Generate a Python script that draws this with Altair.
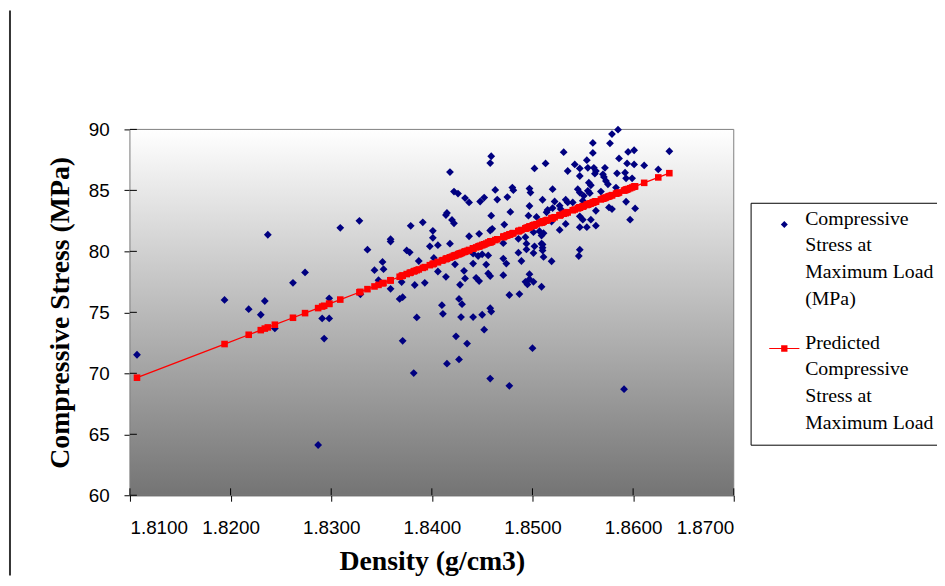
import altair as alt
import pandas as pd

# ---- data ----
density = [
    1.8107, 1.8237, 1.8309, 1.8274, 1.8262, 1.8194, 1.8234, 1.8218, 1.8230, 1.8298,
    1.8291, 1.8298, 1.8293, 1.8244, 1.8287, 1.8418, 1.8422, 1.8414, 1.8415, 1.8420,
    1.8422, 1.8328, 1.8391, 1.8379, 1.8401, 1.8401, 1.8359, 1.8359, 1.8336, 1.8398,
    1.8406, 1.8418, 1.8375, 1.8378, 1.8387, 1.8351, 1.8352, 1.8343, 1.8402, 1.8423,
    1.8406, 1.8414, 1.8347, 1.8370, 1.8383, 1.8393, 1.8359, 1.8329, 1.8368, 1.8371,
    1.8410, 1.8411, 1.8385, 1.8371, 1.8424, 1.8415, 1.8382, 1.8459, 1.8458, 1.8502,
    1.8513, 1.8426, 1.8433, 1.8437, 1.8448, 1.8452, 1.8463, 1.8465, 1.8475, 1.8480,
    1.8481, 1.8497, 1.8498, 1.8510, 1.8497, 1.8478, 1.8459, 1.8496, 1.8504, 1.8472,
    1.8460, 1.8458, 1.8447, 1.8437, 1.8486, 1.8493, 1.8501, 1.8507, 1.8471, 1.8494,
    1.8502, 1.8510, 1.8510, 1.8501, 1.8486, 1.8494, 1.8441, 1.8446, 1.8450, 1.8456,
    1.8441, 1.8454, 1.8471, 1.8474, 1.8489, 1.8432, 1.8456, 1.8458, 1.8471, 1.8497,
    1.8497, 1.8433, 1.8444, 1.8447, 1.8428, 1.8493, 1.8495, 1.8501, 1.8509, 1.8477,
    1.8487, 1.8427, 1.8430, 1.8458, 1.8429, 1.8441, 1.8450, 1.8459, 1.8452, 1.8435,
    1.8500, 1.8427, 1.8458, 1.8477, 1.8585, 1.8579, 1.8577, 1.8560, 1.8560, 1.8531,
    1.8595, 1.8601, 1.8586, 1.8554, 1.8542, 1.8547, 1.8535, 1.8555, 1.8561, 1.8563,
    1.8562, 1.8572, 1.8594, 1.8601, 1.8611, 1.8570, 1.8571, 1.8573, 1.8575, 1.8584,
    1.8592, 1.8593, 1.8547, 1.8556, 1.8558, 1.8599, 1.8520, 1.8545, 1.8547, 1.8555,
    1.8557, 1.8568, 1.8583, 1.8522, 1.8533, 1.8535, 1.8540, 1.8551, 1.8550, 1.8593,
    1.8520, 1.8515, 1.8514, 1.8527, 1.8528, 1.8576, 1.8579, 1.8563, 1.8602, 1.8547,
    1.8550, 1.8558, 1.8597, 1.8519, 1.8533, 1.8527, 1.8547, 1.8554, 1.8563, 1.8511,
    1.8509, 1.8509, 1.8510, 1.8547, 1.8546, 1.8511, 1.8519, 1.8591, 1.8636, 1.8625,
]
stress = [
    71.52, 81.36, 81.93, 78.27, 77.42, 76.02, 75.93, 75.26, 74.80, 76.15,
    74.50, 74.50, 72.85, 73.68, 64.12, 86.50, 84.90, 82.98, 83.15, 82.58,
    82.30, 82.50, 82.38, 82.09, 81.68, 81.11, 81.00, 80.81, 80.14, 80.41,
    80.51, 80.63, 80.08, 79.92, 79.21, 79.13, 78.54, 78.46, 79.46, 78.94,
    78.35, 77.91, 77.64, 77.48, 77.24, 77.42, 76.93, 76.48, 76.10, 76.24,
    75.59, 74.88, 74.58, 72.66, 73.03, 70.79, 70.02, 87.80, 87.24, 86.80,
    87.21, 84.74, 84.37, 84.01, 84.09, 84.41, 85.04, 84.25, 84.45, 85.23,
    85.02, 85.15, 84.82, 84.23, 83.72, 83.23, 82.93, 82.93, 82.82, 82.20,
    81.85, 81.71, 81.44, 81.24, 81.03, 81.16, 81.57, 81.65, 80.67, 80.63,
    80.41, 80.57, 80.08, 79.86, 79.89, 80.16, 79.81, 79.62, 79.76, 79.67,
    79.00, 78.92, 79.41, 79.00, 79.21, 78.40, 78.19, 77.97, 78.05, 78.13,
    77.72, 77.78, 77.83, 77.56, 77.26, 77.50, 77.29, 77.50, 77.10, 76.42,
    76.50, 76.10, 75.67, 75.34, 74.61, 74.61, 74.80, 75.07, 73.58, 72.44,
    72.06, 71.14, 69.57, 68.97, 89.98, 89.62, 88.86, 88.89, 88.07, 88.13,
    88.15, 88.29, 87.62, 87.48, 87.13, 86.80, 86.59, 86.85, 86.85, 86.59,
    86.37, 86.85, 87.21, 87.13, 87.05, 86.32, 86.10, 85.77, 85.50, 86.40,
    86.45, 85.99, 86.18, 85.63, 85.42, 85.99, 85.10, 85.10, 84.82, 84.96,
    84.77, 84.90, 85.23, 84.09, 84.23, 84.01, 84.01, 84.55, 84.15, 84.07,
    83.55, 83.39, 83.20, 83.74, 83.47, 83.60, 83.47, 83.33, 83.52, 82.87,
    82.60, 82.60, 82.60, 82.44, 82.25, 81.76, 81.98, 81.98, 82.11, 81.49,
    81.30, 80.63, 80.30, 80.14, 79.62, 79.54, 79.19, 68.70, 88.21, 86.72,
]

# fitted line (value at density 1.81 and slope)
FIT_INTERCEPT = 69.42
FIT_SLOPE = 317.0

X_TICKS = [1.81, 1.82, 1.83, 1.84, 1.85, 1.86, 1.87]
Y_TICKS = [60, 65, 70, 75, 80, 85, 90]

SERIES_OBS = "Compressive Stress at Maximum Load (MPa)"
SERIES_PRED = "Predicted Compressive Stress at Maximum Load"
LABEL_LINES_OBS = ["Compressive", "Stress at", "Maximum Load", "(MPa)"]
LABEL_LINES_PRED = ["Predicted", "Compressive", "Stress at", "Maximum Load"]

# legend symbol for the predicted series: a short line through a square
LINE_SQUARE_PATH = "M-4.3,-0.15H4.3V0.15H-4.3Z M-0.9,-0.9H0.9V0.9H-0.9Z"

# ---- layout ----
W, H = 609, 369
PAD = {"left": 123, "top": 120, "right": 205, "bottom": 81}

df = pd.DataFrame({"density": density, "stress": stress})
one = pd.DataFrame({"k": [0]})

x_scale = alt.Scale(domain=[1.81, 1.87], nice=False, zero=False)
y_scale = alt.Scale(domain=[60, 90], nice=False, zero=False)

x_axis = alt.Axis(
    values=X_TICKS, format=".4f", title="Density (g/cm3)", grid=False,
    tickSize=6, tickColor="black", domainColor="black",
    labelFont="Liberation Sans", labelFontSize=19, labelColor="black", labelPadding=18,
    titleFont="Liberation Serif", titleFontSize=28, titleFontWeight="bold",
    titleColor="black", titleBaseline="alphabetic", titleY=75,
)
y_axis = alt.Axis(
    values=Y_TICKS, format="d", title="Compressive Stress (MPa)", grid=False,
    tickSize=6, tickColor="black", domainColor="black",
    labelFont="Liberation Sans", labelFontSize=19, labelColor="black", labelPadding=15,
    titleFont="Liberation Serif", titleFontSize=28, titleFontWeight="bold",
    titleColor="black", titlePadding=14,
)

label_expr = (
    f"datum.label == '{SERIES_OBS}' ? {LABEL_LINES_OBS} : {LABEL_LINES_PRED}"
)
legend = alt.Legend(
    title=None, orient="none", legendX=626, legendY=74,
    strokeColor="black", fillColor="white", padding=12, cornerRadius=0,
    labelFont="Liberation Serif", labelFontSize=20, labelColor="black",
    labelLimit=0, labelExpr=label_expr, labelBaseline="alphabetic",
    labelOffset=11, symbolOffset=12, symbolSize=50, rowPadding=24,
    symbolStrokeWidth=0,
)
color = alt.Color(
    "series:N",
    scale=alt.Scale(domain=[SERIES_OBS, SERIES_PRED], range=["#000080", "#FF0000"]),
    legend=legend,
)
shape = alt.Shape(
    "series:N",
    scale=alt.Scale(domain=[SERIES_OBS, SERIES_PRED], range=["diamond", LINE_SQUARE_PATH]),
    legend=legend,
)

X = lambda f="density": alt.X(f"{f}:Q", scale=x_scale, axis=x_axis)
Y = lambda f="stress": alt.Y(f"{f}:Q", scale=y_scale, axis=y_axis)

background = alt.Chart(one).mark_rect(
    fill=alt.Gradient(
        gradient="linear", x1=0, x2=0, y1=0, y2=1,
        stops=[alt.GradientStop(color="#ffffff", offset=0),
               alt.GradientStop(color="#747474", offset=1)],
    ),
    stroke="#808080", strokeWidth=1,
).encode(x=alt.value(0), x2=alt.value(W), y=alt.value(0), y2=alt.value(H))

observed = alt.Chart(df).transform_calculate(
    series=f"'{SERIES_OBS}'"
).mark_point(filled=True, size=62, opacity=1).encode(
    x=X(), y=Y(), color=color, shape=shape
)

predicted_base = alt.Chart(df).transform_calculate(
    predicted=f"{FIT_INTERCEPT} + {FIT_SLOPE} * (datum.density - 1.81)",
    series=f"'{SERIES_PRED}'",
)
pred_line = predicted_base.mark_line(color="#FF0000", strokeWidth=1.3).encode(
    x=X(), y=Y("predicted"), order="density:Q"
)
pred_pts = predicted_base.mark_point(
    filled=True, shape="square", size=44, opacity=1
).encode(x=X(), y=Y("predicted"), color=color)

# inner half of Excel-style crossing tick marks
x_inner = alt.Chart(pd.DataFrame({"density": X_TICKS})).mark_rule(
    color="black", strokeWidth=1
).encode(x=X(), y=alt.value(H - 7), y2=alt.value(H))
y_inner = alt.Chart(pd.DataFrame({"stress": Y_TICKS})).mark_rule(
    color="black", strokeWidth=1
).encode(y=Y(), x=alt.value(0), x2=alt.value(7))

# chart-area frame line on the left
frame = alt.Chart(one).mark_rule(color="#333333", strokeWidth=2).encode(
    x=alt.value(-121), y=alt.value(-120), y2=alt.value(H + PAD["bottom"])
)

chart = alt.layer(
    background, observed, pred_line, pred_pts, x_inner, y_inner, frame
).properties(
    width=W, height=H,
    autosize=alt.AutoSizeParams(type="none"),
    padding=PAD,
).configure(
    style={"guide-label": {"lineHeight": 27}}
).configure_view(
    stroke=None
)

chart.save("out.html", embed_options={"renderer": "svg", "actions": False})
